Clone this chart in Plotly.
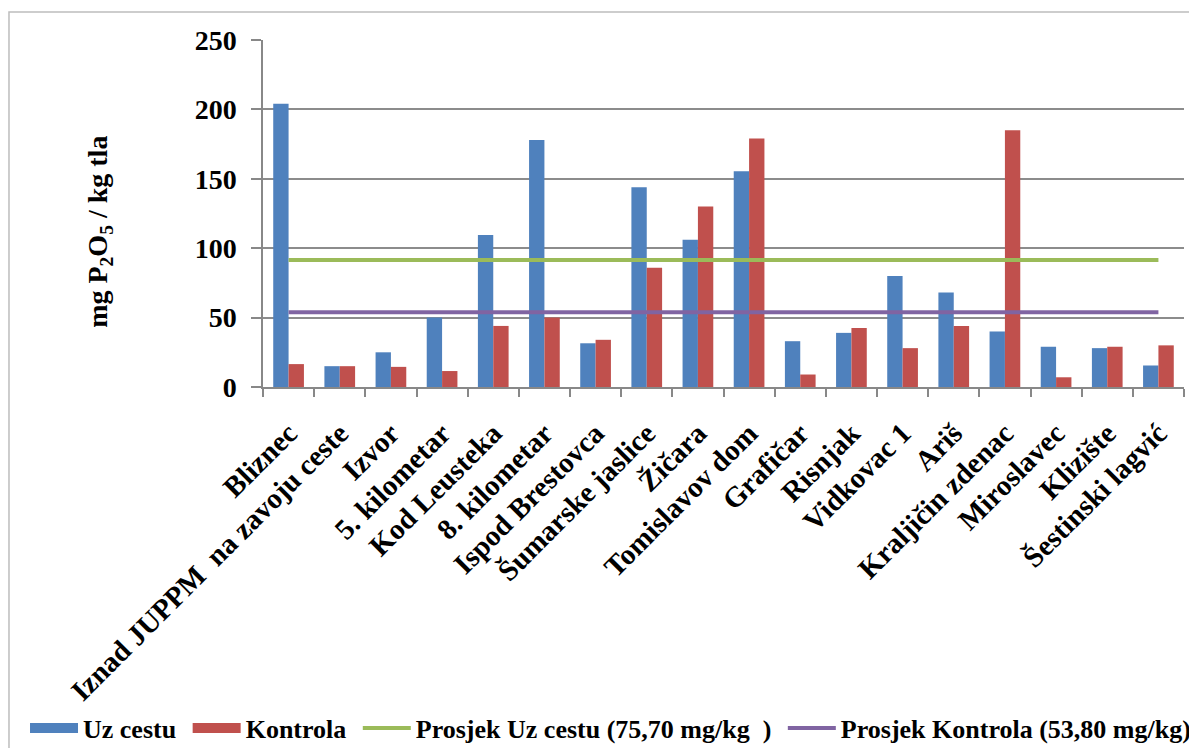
import plotly.graph_objects as go

categories = ["Bliznec", "Iznad JUPPM  na zavoju ceste", "Izvor", "5. kilometar", "Kod Leusteka",
              "8. kilometar", "Ispod Brestovca", "Šumarske jaslice", "Žičara", "Tomislavov dom",
              "Grafičar", "Risnjak", "Vidkovac 1", "Ariš", "Kraljičin zdenac", "Miroslavec",
              "Klizište", "Šestinski lagvić"]
uz_cestu = [204, 15, 25, 50, 109.5, 178, 31.5, 144, 106, 155.5, 33, 39, 80, 68, 40, 29, 28, 15.5]
kontrola = [16.5, 15, 14.5, 11.5, 44, 50, 34, 86, 130, 179, 9, 42.5, 28, 44, 185, 7, 29, 30]
prosjek_uz_cestu = [91.5] * len(categories)
prosjek_kontrola = [53.8] * len(categories)
y_ticks = [0, 50, 100, 150, 200, 250]

FONT = "Liberation Serif"
BLUE, RED, GREEN, PURPLE = "#4F81BD", "#C0504D", "#9BBB59", "#8064A2"
NB = "\u00a0"

fig = go.Figure()
fig.add_trace(go.Bar(x=categories, y=uz_cestu, name="<b>Uz cestu</b>", legendgroup="uz",
                     showlegend=False, marker=dict(color=BLUE, line=dict(width=0))))
fig.add_trace(go.Bar(x=categories, y=kontrola, name="<b>Kontrola</b>", legendgroup="ko",
                     showlegend=False, marker=dict(color=RED, line=dict(width=0))))
# legend swatches drawn as thick lines (wide rectangles like the reference)
fig.add_trace(go.Scatter(x=[None], y=[None], mode="lines", name=f"<b>Uz cestu{NB}</b>",
                         legendgroup="uz", line=dict(color=BLUE, width=13)))
fig.add_trace(go.Scatter(x=[None], y=[None], mode="lines", name=f"<b>Kontrola{NB}</b>",
                         legendgroup="ko", line=dict(color=RED, width=13)))
fig.add_trace(go.Scatter(x=categories, y=prosjek_uz_cestu, mode="lines",
                         name=f"<b>Prosjek Uz cestu (75,70 mg/kg  ){NB}</b>",
                         line=dict(color=GREEN, width=4)))
fig.add_trace(go.Scatter(x=categories, y=prosjek_kontrola, mode="lines",
                         name="<b>Prosjek Kontrola (53,80 mg/kg)</b>",
                         line=dict(color=PURPLE, width=4)))

fig.update_layout(
    width=1197, height=748,
    margin=dict(l=255, r=21, t=32, b=369, autoexpand=False),
    paper_bgcolor="white", plot_bgcolor="white",
    barmode="group", bargap=0.4, bargroupgap=0,
    font=dict(family=FONT, color="black", size=22),
    showlegend=True,
    legend=dict(orientation="h", x=-0.2584, y=-0.983, xanchor="left", yanchor="middle",
                font=dict(family=FONT, size=26, color="black"),
                itemwidth=48, tracegroupgap=0, traceorder="normal"),
    xaxis=dict(
        type="category", tickangle=-45, tickson="boundaries", automargin=False,
        ticks="outside", ticklen=8, tickcolor="#888888", tickwidth=1.5,
        ticklabelstandoff=16,
        showline=True, linecolor="#888888", linewidth=1.5,
        showgrid=False,
        tickfont=dict(family=FONT, size=29, color="black"),
        tickprefix="<b>", ticksuffix="</b>",
    ),
    yaxis=dict(
        range=[0, 250], tickvals=y_ticks, ticktext=[f"<b>{v}</b>" for v in y_ticks],
        automargin=False,
        ticks="outside", ticklen=10, tickcolor="#888888", tickwidth=1.5,
        ticklabelstandoff=9,
        showline=True, linecolor="#888888", linewidth=1.5,
        showgrid=True, gridcolor="#8c8c8c", gridwidth=1.5,
        zeroline=False,
        tickfont=dict(family=FONT, size=28, color="black"),
    ),
    annotations=[dict(text="<b>mg P<sub>2</sub>O<sub>5</sub> / kg tla</b>",
                      xref="paper", yref="paper", x=-0.177, y=0.447,
                      xanchor="center", yanchor="middle", textangle=-90, showarrow=False,
                      font=dict(family=FONT, size=28, color="black"))],
    shapes=[dict(type="rect", xref="paper", yref="paper",
                 x0=-0.2758, x1=1.05, y0=-1.2, y1=1.0807,
                 line=dict(color="#bdbdbd", width=1.5), fillcolor="rgba(0,0,0,0)")],
)

fig.write_html("out.html")
